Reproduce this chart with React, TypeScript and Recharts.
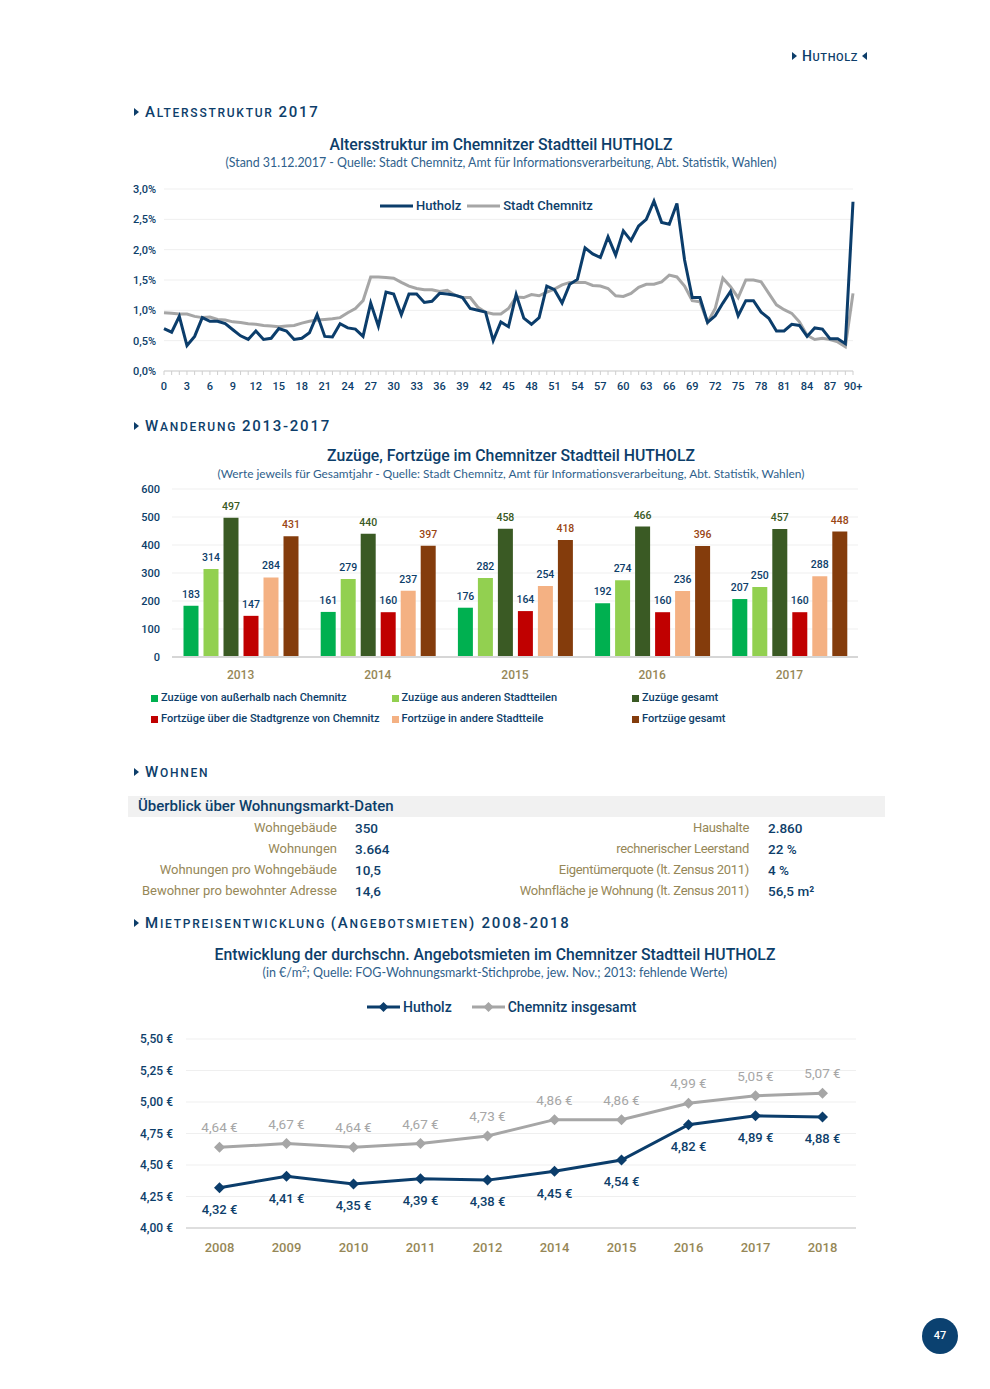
import React from 'react';
import {
  LineChart,
  Line,
  BarChart,
  Bar,
  XAxis,
  YAxis,
  CartesianGrid,
  Legend,
  LabelList,
} from 'recharts';

const BLUE = '#0b3d6b';
const TEXT = '#0d3e6a';
const SUB = '#2f5f8c';
const GRAY = '#a6a6a6';
const OLIVE = '#968757';
const GRID = '#efefef';
const AXIS = '#cfcfcf';
const FONT = 'Roboto, "Noto Sans", sans-serif';
const SUB_FONT = 'Lato, "Open Sans", sans-serif';

// --- Altersstruktur 2017 (Anteil je Altersjahr in %)
const ageLabels = Array.from({ length: 91 }, (_, i) => (i === 90 ? '90+' : String(i)));
const hutholzShare = [
  0.7, 0.64, 0.9, 0.42, 0.57, 0.88, 0.82, 0.82, 0.78, 0.68,
  0.58, 0.52, 0.66, 0.52, 0.54, 0.7, 0.66, 0.52, 0.54, 0.63,
  0.93, 0.57, 0.56, 0.78, 0.71, 0.69, 0.57, 1.12, 0.74, 1.3,
  1.27, 0.93, 1.27, 1.27, 1.13, 1.15, 1.28, 1.27, 1.25, 1.21,
  1.03, 1.0, 0.97, 0.5, 0.81, 0.73, 1.26, 0.87, 0.77, 0.88,
  1.4, 1.34, 1.12, 1.43, 1.51, 2.03, 1.93, 1.87, 2.21, 1.91,
  2.31, 2.15, 2.39, 2.5, 2.8, 2.45, 2.42, 2.76, 1.83, 1.21,
  1.21, 0.8, 0.91, 1.12, 1.31, 0.91, 1.16, 1.16, 0.97, 0.87,
  0.66, 0.66, 0.77, 0.75, 0.57, 0.71, 0.69, 0.53, 0.53, 0.45,
  2.79,
];
const chemnitzShare = [
  0.96, 0.95, 0.94, 0.94, 0.9, 0.88, 0.89, 0.85, 0.84, 0.81,
  0.8, 0.78, 0.77, 0.75, 0.74, 0.73, 0.74, 0.75, 0.79, 0.82,
  0.84, 0.85, 0.86, 0.88, 0.96, 1.03, 1.16, 1.55, 1.55, 1.54,
  1.53, 1.46, 1.4, 1.36, 1.34, 1.34, 1.31, 1.33, 1.25, 1.21,
  1.21, 1.05, 0.97, 0.94, 0.94, 1.03, 1.22, 1.21, 1.26, 1.24,
  1.3, 1.35, 1.42, 1.46, 1.46, 1.46, 1.41, 1.4, 1.36, 1.24,
  1.23, 1.28, 1.38, 1.43, 1.43, 1.47, 1.58, 1.55, 1.4, 1.16,
  1.14, 0.8, 1.03, 1.53, 1.39, 1.21, 1.5, 1.5, 1.47, 1.28,
  1.09, 1.01, 0.95, 0.81, 0.59, 0.52, 0.54, 0.52, 0.48, 0.4,
  1.28,
];
const shareTicks = [0, 0.5, 1, 1.5, 2, 2.5, 3];

// --- Wanderung 2013-2017
const flowYears = ['2013', '2014', '2015', '2016', '2017'];
const zuzuegeAussen = [183, 161, 176, 192, 207];
const zuzuegeStadtteile = [314, 279, 282, 274, 250];
const zuzuegeGesamt = [497, 440, 458, 466, 457];
const fortzuegeGrenze = [147, 160, 164, 160, 160];
const fortzuegeStadtteile = [284, 237, 254, 236, 288];
const fortzuegeGesamt = [431, 397, 418, 396, 448];
const flowTicks = [0, 100, 200, 300, 400, 500, 600];

// --- Wohnungsmarkt
const leftLabels = ['Wohngebäude', 'Wohnungen', 'Wohnungen pro Wohngebäude', 'Bewohner pro bewohnter Adresse'];
const leftValues = ['350', '3.664', '10,5', '14,6'];
const rightLabels = ['Haushalte', 'rechnerischer Leerstand', 'Eigentümerquote (lt. Zensus 2011)', 'Wohnfläche je Wohnung (lt. Zensus 2011)'];
const rightValues = ['2.860', '22 %', '4 %', '56,5 m²'];

// --- Angebotsmieten
const rentYears = ['2008', '2009', '2010', '2011', '2012', '2014', '2015', '2016', '2017', '2018'];
const rentHutholz = [4.32, 4.41, 4.35, 4.39, 4.38, 4.45, 4.54, 4.82, 4.89, 4.88];
const rentChemnitz = [4.64, 4.67, 4.64, 4.67, 4.73, 4.86, 4.86, 4.99, 5.05, 5.07];
const rentTicks = [4, 4.25, 4.5, 4.75, 5, 5.25, 5.5];

const ageData = ageLabels.map((age, i) => ({ age, hutholz: hutholzShare[i], chemnitz: chemnitzShare[i] }));
const flowData = flowYears.map((year, i) => ({
  year,
  aussen: zuzuegeAussen[i],
  stadtteile: zuzuegeStadtteile[i],
  zGesamt: zuzuegeGesamt[i],
  grenze: fortzuegeGrenze[i],
  fStadtteile: fortzuegeStadtteile[i],
  fGesamt: fortzuegeGesamt[i],
}));
const rentData = rentYears.map((year, i) => ({ year, hutholz: rentHutholz[i], chemnitz: rentChemnitz[i] }));

const barSeries = [
  { key: 'aussen', name: 'Zuzüge von außerhalb nach Chemnitz', color: '#00b050', label: TEXT },
  { key: 'stadtteile', name: 'Zuzüge aus anderen Stadtteilen', color: '#92d050', label: TEXT },
  { key: 'zGesamt', name: 'Zuzüge gesamt', color: '#3a5a24', label: '#3a5a24' },
  { key: 'grenze', name: 'Fortzüge über die Stadtgrenze von Chemnitz', color: '#c00000', label: TEXT },
  { key: 'fStadtteile', name: 'Fortzüge in andere Stadtteile', color: '#f4b183', label: TEXT },
  { key: 'fGesamt', name: 'Fortzüge gesamt', color: '#843c0c', label: '#9a4614' },
];

const pct = (v: number) => v.toFixed(1).replace('.', ',') + '%';
const euro = (v: number) => v.toFixed(2).replace('.', ',') + ' €';

const Txt = ({ x, y, align = 'left', style, children }: any) => {
  const pos =
    align === 'left'
      ? { left: x }
      : align === 'right'
      ? { right: 990 - x, textAlign: 'right' as const }
      : { left: x - 450, width: 900, textAlign: 'center' as const };
  return (
    <div
      style={{
        position: 'absolute',
        top: y - 10,
        height: 20,
        lineHeight: '20px',
        whiteSpace: 'nowrap',
        fontFamily: FONT,
        color: TEXT,
        ...pos,
        ...style,
      }}
    >
      {children}
    </div>
  );
};

const Tri = ({ dir = 'right' }: { dir?: string }) => (
  <span
    style={{
      display: 'inline-block',
      width: 0,
      height: 0,
      borderTop: '4.5px solid transparent',
      borderBottom: '4.5px solid transparent',
      [dir === 'right' ? 'borderLeft' : 'borderRight']: `5.5px solid ${TEXT}`,
      verticalAlign: 'middle',
      position: 'relative',
      top: -1,
    }}
  />
);

// parts: [text, isBig]
const SectionHead = ({ y, parts }: { y: number; parts: [string, boolean][] }) => (
  <Txt x={134} y={y} style={{ fontWeight: 500, letterSpacing: 1.75 }}>
    <Tri />
    <span style={{ marginLeft: 6 }} />
    {parts.map(([t, big], i) => (
      <span key={i} style={{ fontSize: big ? 15 : 12 }}>
        {t}
      </span>
    ))}
  </Txt>
);

const AgeTick = (props: any) => {
  const { x, y, payload } = props;
  const idx = ageLabels.indexOf(payload.value);
  return (
    <g>
      <line x1={x} x2={x} y1={y} y2={y + 4} stroke={AXIS} strokeWidth={1} />
      {idx % 3 === 0 && (
        <text x={x} y={y + 19} textAnchor="middle" fill={TEXT} fontSize={11} fontWeight={500} fontFamily={FONT}>
          {payload.value}
        </text>
      )}
    </g>
  );
};

const diamond = (color: string) => (props: any) => {
  const { cx, cy, index } = props;
  if (cx == null || cy == null) return <g key={index} />;
  const r = 5.5;
  return <path key={index} d={`M${cx},${cy - r}L${cx + r},${cy}L${cx},${cy + r}L${cx - r},${cy}Z`} fill={color} />;
};

const LineKey = ({ color, name, marker }: { color: string; name: string; marker?: boolean }) => (
  <span style={{ display: 'inline-flex', alignItems: 'center', marginRight: 6 }}>
    <svg width={33} height={12} style={{ marginRight: 3 }}>
      <line x1={0} x2={33} y1={6} y2={6} stroke={color} strokeWidth={3} />
      {marker && <path d="M16.5,1L21.5,6L16.5,11L11.5,6Z" fill={color} />}
    </svg>
    <span>{name}</span>
  </span>
);

const AgeLegend = () => (
  <div style={{ fontFamily: FONT, fontSize: 13, fontWeight: 500, color: TEXT, whiteSpace: 'nowrap', lineHeight: '18px' }}>
    <LineKey color={BLUE} name="Hutholz" />
    <LineKey color={GRAY} name="Stadt Chemnitz" />
  </div>
);

const FlowLegend = () => (
  <div
    style={{
      display: 'grid',
      gridTemplateColumns: '240.5px 240.5px 240.5px',
      rowGap: 3,
      fontFamily: FONT,
      fontSize: 11,
      fontWeight: 500,
      color: TEXT,
      whiteSpace: 'nowrap',
      lineHeight: '18px',
    }}
  >
    {barSeries.map((s) => (
      <span key={s.key} style={{ display: 'inline-flex', alignItems: 'center' }}>
        <span style={{ display: 'inline-block', width: 7, height: 7, background: s.color, marginRight: 3 }} />
        {s.name}
      </span>
    ))}
  </div>
);

const RentLegend = () => (
  <div style={{ fontFamily: FONT, fontSize: 14, fontWeight: 500, color: TEXT, whiteSpace: 'nowrap', lineHeight: '18px' }}>
    <LineKey color={BLUE} name="Hutholz" marker />
    <span style={{ marginLeft: 14 }} />
    <LineKey color={GRAY} name="Chemnitz insgesamt" marker />
  </div>
);

const axisTick = { fill: TEXT, fontSize: 11, fontWeight: 500, fontFamily: FONT };

export default function App() {
  return (
    <div
      style={{
        position: 'absolute',
        left: 0,
        top: 0,
        width: 990,
        height: 1389,
        background: '#ffffff',
        overflow: 'hidden',
        fontFamily: FONT,
      }}
    >
      {/* page header */}
      <Txt x={792} y={56} style={{ fontWeight: 500, letterSpacing: 0.6 }}>
        <Tri />
        <span style={{ marginLeft: 5, fontSize: 14 }}>H</span>
        <span style={{ fontSize: 11 }}>UTHOLZ</span>
        <span style={{ marginLeft: 4 }} />
        <Tri dir="left" />
      </Txt>

      <SectionHead y={112} parts={[['A', true], ['LTERSSTRUKTUR ', false], ['2017', true]]} />
      <Txt x={501} y={145} align="center" style={{ fontSize: 15.8, fontWeight: 500 }}>
        Altersstruktur im Chemnitzer Stadtteil HUTHOLZ
      </Txt>
      <Txt x={501} y={163} align="center" style={{ fontSize: 12.4, fontFamily: SUB_FONT, color: SUB }}>
        (Stand 31.12.2017 - Quelle: Stadt Chemnitz, Amt für Informationsverarbeitung, Abt. Statistik, Wahlen)
      </Txt>

      <div style={{ position: 'absolute', left: 120, top: 175 }}>
        <LineChart width={750} height={236} data={ageData} margin={{ top: 14, right: 17, bottom: 0, left: 0 }}>
          <CartesianGrid vertical={false} stroke={GRID} />
          <XAxis
            dataKey="age"
            scale="point"
            interval={0}
            padding={{ left: 0, right: 0 }}
            tick={AgeTick}
            tickLine={false}
            tickSize={0}
            tickMargin={0}
            axisLine={{ stroke: AXIS }}
            height={40}
          />
          <YAxis
            domain={[0, 3]}
            ticks={shareTicks}
            tickFormatter={pct}
            width={44}
            axisLine={false}
            tickLine={false}
            tickSize={0}
            tickMargin={8}
            tick={axisTick}
          />
          <Legend
            layout="horizontal"
            verticalAlign="middle"
            align="center"
            wrapperStyle={{ left: 260, top: 22, width: 260 }}
            content={AgeLegend}
          />
          <Line dataKey="chemnitz" name="Stadt Chemnitz" stroke={GRAY} strokeWidth={3} dot={false} isAnimationActive={false} />
          <Line dataKey="hutholz" name="Hutholz" stroke={BLUE} strokeWidth={3} dot={false} isAnimationActive={false} />
        </LineChart>
      </div>

      <SectionHead y={426} parts={[['W', true], ['ANDERUNG ', false], ['2013-2017', true]]} />
      <Txt x={511} y={456} align="center" style={{ fontSize: 15.8, fontWeight: 500 }}>
        Zuzüge, Fortzüge im Chemnitzer Stadtteil HUTHOLZ
      </Txt>
      <Txt x={511} y={474} align="center" style={{ fontSize: 11.9, fontFamily: SUB_FONT, color: SUB }}>
        (Werte jeweils für Gesamtjahr - Quelle: Stadt Chemnitz, Amt für Informationsverarbeitung, Abt. Statistik, Wahlen)
      </Txt>

      <div style={{ position: 'absolute', left: 112, top: 480 }}>
        <BarChart
          width={760}
          height={260}
          data={flowData}
          margin={{ top: 9, right: 14, bottom: 53, left: 0 }}
          barCategoryGap={11.5}
          barGap={5}
        >
          <CartesianGrid vertical={false} stroke={GRID} />
          <XAxis
            dataKey="year"
            tickLine={false}
            tickSize={0}
            tickMargin={13}
            axisLine={{ stroke: '#d6d6d6', strokeWidth: 2 }}
            tick={{ fill: OLIVE, fontSize: 12, fontWeight: 500, fontFamily: FONT }}
            height={30}
          />
          <YAxis
            domain={[0, 600]}
            ticks={flowTicks}
            width={60}
            axisLine={false}
            tickLine={false}
            tickSize={0}
            tickMargin={12}
            tick={axisTick}
          />
          <Legend
            layout="horizontal"
            verticalAlign="middle"
            align="center"
            wrapperStyle={{ left: 39, top: 209, width: 722 }}
            content={FlowLegend}
          />
          {barSeries.map((s) => (
            <Bar key={s.key} dataKey={s.key} name={s.name} fill={s.color} isAnimationActive={false}>
              <LabelList
                dataKey={s.key}
                position="top"
                offset={8}
                fill={s.label}
                fontSize={10.5}
                fontWeight={500}
                fontFamily={FONT}
              />
            </Bar>
          ))}
        </BarChart>
      </div>

      <SectionHead y={772} parts={[['W', true], ['OHNEN', false]]} />
      <div style={{ position: 'absolute', left: 128, top: 796, width: 757, height: 21, background: '#f1f1f1' }} />
      <Txt x={138} y={806} style={{ fontSize: 15, fontWeight: 500 }}>
        Überblick über Wohnungsmarkt-Daten
      </Txt>
      {leftLabels.map((l, i) => (
        <React.Fragment key={l}>
          <Txt x={337} y={828 + i * 21} align="right" style={{ fontSize: 13, color: OLIVE }}>
            {l}
          </Txt>
          <Txt x={355} y={828 + i * 21} style={{ fontSize: 13.5, fontWeight: 500 }}>
            {leftValues[i]}
          </Txt>
        </React.Fragment>
      ))}
      {rightLabels.map((l, i) => (
        <React.Fragment key={l}>
          <Txt x={749} y={828 + i * 21} align="right" style={{ fontSize: 13, color: OLIVE, letterSpacing: -0.3 }}>
            {l}
          </Txt>
          <Txt x={768} y={828 + i * 21} style={{ fontSize: 13.5, fontWeight: 500 }}>
            {rightValues[i]}
          </Txt>
        </React.Fragment>
      ))}

      <SectionHead
        y={923}
        parts={[['M', true], ['IETPREISENTWICKLUNG ', false], ['(A', true], ['NGEBOTSMIETEN', false], [') 2008-2018', true]]}
      />
      <Txt x={495} y={955} align="center" style={{ fontSize: 15.8, fontWeight: 500 }}>
        Entwicklung der durchschn. Angebotsmieten im Chemnitzer Stadtteil HUTHOLZ
      </Txt>
      <Txt x={495} y={973} align="center" style={{ fontSize: 12.5, fontFamily: SUB_FONT, color: SUB }}>
        (in €/m<sup style={{ fontSize: 8, lineHeight: 0 }}>2</sup>; Quelle: FOG-Wohnungsmarkt-Stichprobe, jew. Nov.; 2013: fehlende Werte)
      </Txt>

      <div style={{ position: 'absolute', left: 110, top: 990 }}>
        <LineChart width={760} height={290} data={rentData} margin={{ top: 49, right: 14, bottom: 12, left: 0 }}>
          <CartesianGrid vertical={false} stroke={GRID} />
          <XAxis
            dataKey="year"
            scale="point"
            padding={{ left: 33.5, right: 33.5 }}
            tickLine={false}
            tickSize={0}
            tickMargin={15}
            axisLine={{ stroke: '#d6d6d6', strokeWidth: 1.5 }}
            tick={{ fill: OLIVE, fontSize: 13, fontWeight: 500, fontFamily: FONT }}
            height={40}
          />
          <YAxis
            domain={[4, 5.5]}
            ticks={rentTicks}
            tickFormatter={euro}
            width={76}
            axisLine={false}
            tickLine={false}
            tickSize={0}
            tickMargin={13}
            tick={{ ...axisTick, fontSize: 12 }}
          />
          <Legend
            layout="horizontal"
            verticalAlign="middle"
            align="center"
            wrapperStyle={{ left: 257, top: 8, width: 320 }}
            content={RentLegend}
          />
          <Line
            dataKey="chemnitz"
            name="Chemnitz insgesamt"
            stroke={GRAY}
            strokeWidth={3}
            dot={diamond(GRAY)}
            activeDot={false}
            isAnimationActive={false}
          >
            <LabelList
              dataKey="chemnitz"
              position="top"
              offset={15}
              formatter={euro}
              fill={GRAY}
              fontSize={13.5}
              fontFamily={FONT}
            />
          </Line>
          <Line
            dataKey="hutholz"
            name="Hutholz"
            stroke={BLUE}
            strokeWidth={3}
            dot={diamond(BLUE)}
            activeDot={false}
            isAnimationActive={false}
          >
            <LabelList
              dataKey="hutholz"
              position="bottom"
              offset={17}
              formatter={euro}
              fill={TEXT}
              fontSize={13}
              fontWeight={500}
              fontFamily={FONT}
            />
          </Line>
        </LineChart>
      </div>

      {/* page number */}
      <div
        style={{
          position: 'absolute',
          left: 922,
          top: 1318,
          width: 36,
          height: 36,
          borderRadius: 18,
          background: '#0b4170',
          color: '#fff',
          fontFamily: FONT,
          fontWeight: 500,
          fontSize: 11,
          lineHeight: '36px',
          textAlign: 'center',
        }}
      >
        47
      </div>
    </div>
  );
}
